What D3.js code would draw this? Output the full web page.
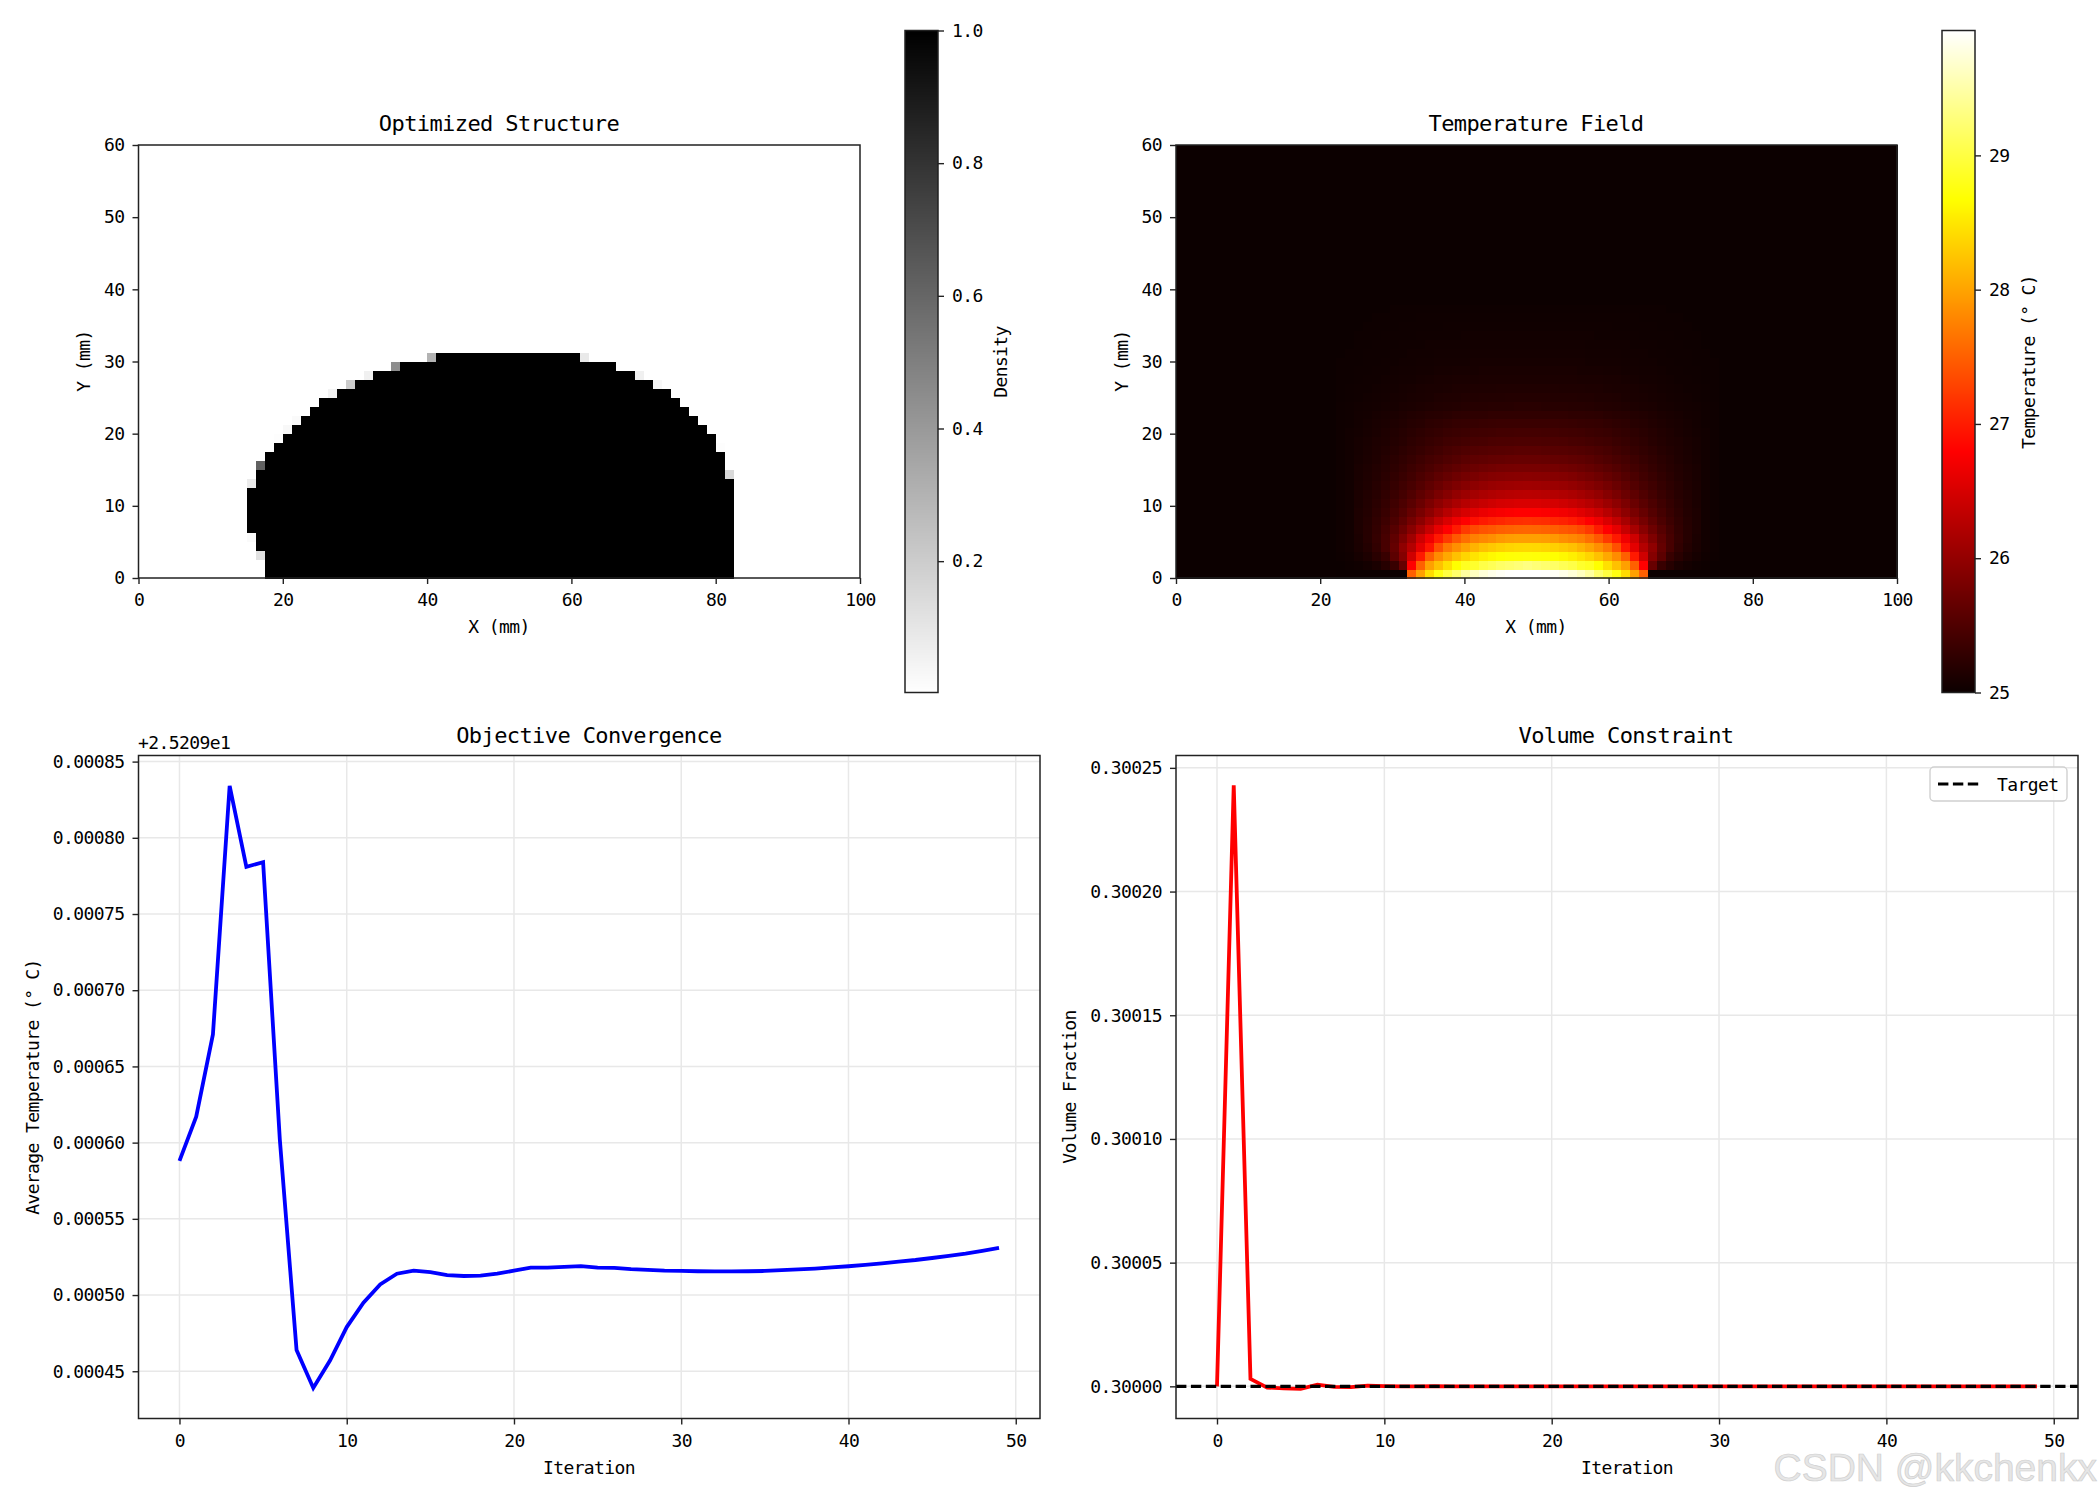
<!DOCTYPE html>
<html>
<head>
<meta charset="utf-8">
<script src="https://d3js.org/d3.v7.min.js"></script>
<style>
  html, body { margin: 0; padding: 0; background: #fff; }
  text { font-family: "DejaVu Sans Mono", monospace; fill: #000; letter-spacing: -0.6px; }
  .axis path, .axis line { stroke: #222; stroke-width: 1.4; }
  .axis text { font-size: 18px; }
</style>
</head>
<body>
<svg id="fig" width="2100" height="1500"></svg>
<script>
// iteration history
var objective = [
  0.000588, 0.000617, 0.000671, 0.000834, 0.000781, 0.000784, 0.000602, 0.000464, 0.000439, 0.000457,
  0.000479, 0.000495, 0.000507, 0.000514, 0.000516, 0.000515, 0.000513, 0.0005125, 0.0005127, 0.000514,
  0.000516, 0.000518, 0.000518, 0.0005185, 0.000519, 0.000518, 0.0005178, 0.000517, 0.0005165, 0.000516,
  0.0005158, 0.0005156, 0.0005155, 0.0005155, 0.0005156, 0.0005158, 0.0005163, 0.0005168, 0.0005174, 0.0005181,
  0.0005189, 0.0005198, 0.0005208, 0.000522, 0.000523, 0.0005243, 0.0005257, 0.0005272, 0.000529, 0.000531
];
var volume = [
  0.3, 0.300243, 0.300003, 0.2999995, 0.2999992, 0.299999, 0.3000007, 0.2999998, 0.2999997, 0.3000003,
  0.3000001, 0.3, 0.3, 0.3000001, 0.3, 0.3, 0.3, 0.3, 0.3, 0.3,
  0.3, 0.3, 0.3, 0.3, 0.3, 0.3, 0.3, 0.3, 0.3, 0.3,
  0.3, 0.3, 0.3, 0.3, 0.3, 0.3, 0.3, 0.3, 0.3, 0.3,
  0.3, 0.3, 0.3, 0.3, 0.3, 0.3, 0.3, 0.3, 0.3, 0.3
];
var volumeTarget = 0.3;

// density: solid run of each row (row 0 at the bottom), plus the grey cells on its edge
var solidStart = [14,14,14,13,13,12,12,12,12,12,13,13,14,14,15,16,17,18,19,20,22,24,26,29,33];
var solidEnd   = [66,66,66,66,66,66,66,66,66,66,66,65,65,65,64,64,63,62,61,60,59,57,55,53,49];
var edgeRow    = [2,4,10,11,12,14,15,16,17,20,21,21,22,22,23,24,24];
var edgeCol    = [13,12,12,65,13,64,15,16,17,21,23,57,25,55,28,32,49];
var edgeValue  = [0.12,0.02,0.08,0.15,0.62,0.01,0.01,0.03,0.02,0.05,0.2,0.03,0.06,0.06,0.45,0.3,0.09];

// temperature: rows 0..30 from the bottom, columns 18..39 (the field mirrors about column 39)
var tempRows = [
  [25,25,25,25,25,25,25,25,27.51,27.98,28.42,28.76,28.99,29.2,29.46,29.62,29.74,29.82,29.88,29.92,29.93,29.93],
  [25.01,25.02,25.04,25.07,25.11,25.2,25.33,25.68,26.8,27.51,27.98,28.22,28.45,28.68,28.84,28.9,29.03,29.1,29.18,29.22,29.26,29.31],
  [25.02,25.04,25.08,25.13,25.22,25.33,25.6,25.9,26.45,26.98,27.51,27.83,28.04,28.22,28.37,28.48,28.57,28.63,28.68,28.7,28.71,28.72],
  [25.03,25.05,25.11,25.18,25.28,25.44,25.66,25.97,26.25,26.6,26.95,27.39,27.68,27.85,28,28.12,28.22,28.28,28.33,28.37,28.39,28.4],
  [25.03,25.05,25.12,25.2,25.3,25.44,25.62,25.85,26.1,26.44,26.69,26.98,27.22,27.45,27.62,27.74,27.8,27.85,27.93,27.96,27.98,27.98],
  [25.03,25.05,25.13,25.2,25.29,25.41,25.55,25.72,25.92,26.15,26.38,26.62,26.8,27,27.22,27.34,27.41,27.45,27.5,27.52,27.54,27.55],
  [25.03,25.05,25.13,25.19,25.27,25.37,25.48,25.62,25.78,25.95,26.15,26.35,26.52,26.68,26.8,26.9,26.98,27.04,27.08,27.12,27.14,27.15],
  [25.03,25.05,25.13,25.18,25.25,25.33,25.43,25.54,25.67,25.81,25.96,26.12,26.27,26.4,26.5,26.58,26.66,26.71,26.75,26.78,26.8,26.8],
  [25.03,25.05,25.12,25.17,25.23,25.3,25.38,25.48,25.58,25.7,25.83,25.96,26.07,26.17,26.26,26.33,26.39,26.44,26.48,26.5,26.52,26.52],
  [25.03,25.05,25.12,25.16,25.21,25.27,25.34,25.42,25.51,25.61,25.71,25.82,25.91,26,26.07,26.13,26.18,26.22,26.25,26.27,26.28,26.29],
  [25.03,25.05,25.11,25.15,25.2,25.25,25.31,25.38,25.45,25.53,25.62,25.7,25.78,25.85,25.91,25.96,26,26.04,26.06,26.08,26.09,26.1],
  [25.03,25.05,25.1,25.14,25.18,25.23,25.28,25.34,25.4,25.47,25.54,25.61,25.67,25.73,25.78,25.82,25.86,25.89,25.91,25.92,25.93,25.94],
  [25.03,25.05,25.1,25.13,25.17,25.21,25.25,25.3,25.36,25.41,25.47,25.53,25.58,25.63,25.67,25.71,25.74,25.76,25.78,25.79,25.8,25.8],
  [25.03,25.05,25.09,25.12,25.15,25.19,25.23,25.27,25.32,25.37,25.42,25.46,25.5,25.54,25.58,25.61,25.63,25.65,25.66,25.67,25.68,25.68],
  [25.03,25.05,25.08,25.11,25.14,25.17,25.2,25.24,25.28,25.32,25.36,25.4,25.44,25.47,25.5,25.52,25.54,25.55,25.56,25.57,25.58,25.58],
  [25.03,25.05,25.08,25.1,25.13,25.15,25.18,25.21,25.25,25.28,25.32,25.35,25.38,25.4,25.42,25.44,25.45,25.47,25.48,25.48,25.49,25.49],
  [25.03,25.05,25.07,25.09,25.11,25.14,25.16,25.19,25.22,25.25,25.28,25.3,25.33,25.35,25.36,25.38,25.39,25.4,25.41,25.41,25.42,25.42],
  [25.03,25.04,25.06,25.08,25.1,25.12,25.14,25.16,25.19,25.21,25.24,25.26,25.28,25.3,25.31,25.32,25.33,25.34,25.35,25.35,25.35,25.35],
  [25.03,25.04,25.06,25.07,25.09,25.1,25.12,25.14,25.16,25.18,25.2,25.21,25.22,25.24,25.25,25.26,25.26,25.27,25.27,25.27,25.27,25.27],
  [25.03,25.04,25.05,25.06,25.07,25.08,25.09,25.11,25.12,25.13,25.15,25.16,25.17,25.18,25.19,25.2,25.2,25.21,25.21,25.21,25.22,25.22],
  [25.02,25.03,25.04,25.05,25.06,25.07,25.08,25.09,25.1,25.11,25.12,25.14,25.15,25.15,25.16,25.16,25.17,25.17,25.17,25.18,25.18,25.18],
  [25.02,25.03,25.04,25.04,25.05,25.06,25.07,25.08,25.09,25.1,25.11,25.11,25.12,25.13,25.13,25.14,25.14,25.14,25.15,25.15,25.15,25.15],
  [25.02,25.02,25.03,25.04,25.04,25.05,25.06,25.07,25.07,25.08,25.09,25.1,25.1,25.11,25.11,25.11,25.12,25.12,25.12,25.12,25.12,25.12],
  [25.02,25.02,25.03,25.03,25.04,25.04,25.05,25.06,25.06,25.07,25.07,25.08,25.08,25.09,25.09,25.09,25.1,25.1,25.1,25.1,25.1,25.1],
  [25.02,25.02,25.02,25.03,25.03,25.04,25.04,25.05,25.05,25.06,25.06,25.07,25.07,25.07,25.07,25.08,25.08,25.08,25.08,25.08,25.08,25.08],
  [25.01,25.02,25.02,25.03,25.03,25.03,25.04,25.04,25.05,25.05,25.05,25.06,25.06,25.06,25.06,25.07,25.07,25.07,25.07,25.07,25.07,25.07],
  [25.01,25.01,25.02,25.02,25.03,25.03,25.03,25.04,25.04,25.04,25.05,25.05,25.05,25.05,25.05,25.06,25.06,25.06,25.06,25.06,25.06,25.06],
  [25.01,25.01,25.02,25.02,25.02,25.03,25.03,25.03,25.03,25.04,25.04,25.04,25.04,25.04,25.05,25.05,25.05,25.05,25.05,25.05,25.05,25.05],
  [25.01,25.01,25.01,25.02,25.02,25.02,25.02,25.03,25.03,25.03,25.03,25.03,25.04,25.04,25.04,25.04,25.04,25.04,25.04,25.04,25.04,25.04],
  [25.01,25.01,25.01,25.01,25.02,25.02,25.02,25.02,25.02,25.03,25.03,25.03,25.03,25.03,25.03,25.03,25.03,25.03,25.03,25.03,25.03,25.03],
  [25.01,25.01,25.01,25.01,25.01,25.01,25.02,25.02,25.02,25.02,25.02,25.02,25.02,25.02,25.02,25.02,25.02,25.02,25.02,25.02,25.02,25.02]
];
var tempBase = 25.01;

// tick labels
var fieldXTicks = [0, 20, 40, 60, 80, 100];
var fieldYTicks = [0, 10, 20, 30, 40, 50, 60];
var iterTicks = [0, 10, 20, 30, 40, 50];
var objTicks = [0.00045, 0.0005, 0.00055, 0.0006, 0.00065, 0.0007, 0.00075, 0.0008, 0.00085];
var volTicks = [0.3, 0.30005, 0.3001, 0.30015, 0.3002, 0.30025];
var densityTicks = [0.2, 0.4, 0.6, 0.8, 1.0];
var tempTicks = [25, 26, 27, 28, 29];

var svg = d3.select('#fig');

var densityMin = 0.002, tempMin = 25, tempMax = 29.93;

function densityColor(v) {
  var g = Math.round(255 * (1 - (v - densityMin) / (1 - densityMin)));
  return 'rgb(' + g + ',' + g + ',' + g + ')';
}
var hotScale = d3.scaleLinear()
  .domain([0, 0.365, 0.746, 1])
  .range(['#0b0000', '#ff0000', '#ffff00', '#ffffff'])
  .clamp(true);
function tempColor(t) {
  return hotScale((t - tempMin) / (tempMax - tempMin));
}

// plain mono text, same spot for every label
function label(x, y, str, size, rotate) {
  var t = svg.append('text')
    .attr('text-anchor', 'middle')
    .attr('dominant-baseline', 'central')
    .style('font-size', size + 'px');
  if (rotate) {
    t.attr('transform', 'translate(' + x + ',' + y + ') rotate(-90)');
  } else {
    t.attr('x', x).attr('y', y);
  }
  t.text(str);
  return t;
}

function degreeLabel(t, before, after) {
  t.text(before);
  t.append('tspan').attr('dx', 10).text(after);
}

function drawAxes(g, x, y, xTicks, yTicks, w, h, yFormat, xPad) {
  var ax = d3.axisBottom(x).tickValues(xTicks).tickSize(6).tickPadding(xPad).tickFormat(d3.format('d'));
  var ay = d3.axisLeft(y).tickValues(yTicks).tickSize(6).tickPadding(8).tickFormat(yFormat);
  g.append('g').attr('class', 'axis').attr('transform', 'translate(0,' + h + ')').call(ax)
    .select('.domain').remove();
  g.append('g').attr('class', 'axis').call(ay)
    .select('.domain').remove();
  g.append('rect').attr('width', w).attr('height', h)
    .attr('fill', 'none').attr('stroke', '#222').attr('stroke-width', 1.5);
}

// ---- top row: the two image panels
function imagePanel(box, cols, rows, cellColor) {
  var w = box.r - box.l, h = box.b - box.t;
  var g = svg.append('g').attr('transform', 'translate(' + box.l + ',' + box.t + ')');
  var x = d3.scaleLinear().domain([0, 100]).range([0, w]);
  var y = d3.scaleLinear().domain([0, 60]).range([h, 0]);
  var colX = d3.scaleLinear().domain([0, cols]).range([0, w]);
  var rowY = d3.scaleLinear().domain([0, rows]).range([h, 0]);

  var cells = [];
  d3.range(rows).forEach(function (r) {
    d3.range(cols).forEach(function (c) {
      cells.push({r: r, c: c});
    });
  });
  g.append('g').attr('shape-rendering', 'crispEdges')
    .selectAll('rect').data(cells).enter().append('rect')
    .attr('x', function (d) { return colX(d.c); })
    .attr('y', function (d) { return rowY(d.r + 1); })
    .attr('width', function (d) { return colX(d.c + 1) - colX(d.c) + 0.5; })
    .attr('height', function (d) { return rowY(d.r) - rowY(d.r + 1) + 0.5; })
    .attr('fill', function (d) { return cellColor(d.r, d.c); });

  drawAxes(g, x, y, fieldXTicks, fieldYTicks, w, h, d3.format('d'), 9);
  return g;
}

function densityAt(r, c) {
  for (var i = 0; i < edgeRow.length; i++) {
    if (edgeRow[i] === r && edgeCol[i] === c) return edgeValue[i];
  }
  if (r < solidStart.length && c >= solidStart[r] && c < solidEnd[r]) return 1;
  return densityMin;
}

function tempAt(r, c) {
  var k = c > 39 ? 78 - c : c;
  if (r >= tempRows.length || k < 18) return tempBase;
  return tempRows[r][k - 18];
}

var boxDensity = {l: 138.5, r: 860, t: 145, b: 578};
var boxTemp = {l: 1176, r: 1897, t: 145, b: 578};

imagePanel(boxDensity, 80, 48, function (r, c) { return densityColor(densityAt(r, c)); });
imagePanel(boxTemp, 81, 49, function (r, c) { return tempColor(tempAt(r, c)); });

label(499, 123, 'Optimized Structure', 22);
label(1536, 123, 'Temperature Field', 22);
label(499, 626, 'X (mm)', 18);
label(1536, 626, 'X (mm)', 18);
label(83, 361, 'Y (mm)', 18, true);
label(1121, 361, 'Y (mm)', 18, true);

// ---- colorbars
function colorbar(left, right, top, bottom, dom, color, ticks, fmt) {
  var w = right - left, h = bottom - top;
  var g = svg.append('g').attr('transform', 'translate(' + left + ',' + top + ')');
  var y = d3.scaleLinear().domain(dom).range([h, 0]);
  g.append('g').attr('shape-rendering', 'crispEdges')
    .selectAll('rect').data(d3.range(h)).enter().append('rect')
    .attr('x', 0).attr('y', function (d) { return d; })
    .attr('width', w).attr('height', 1.5)
    .attr('fill', function (d) { return color(y.invert(d + 0.5)); });
  var ax = d3.axisRight(y).tickValues(ticks).tickSize(6).tickPadding(8).tickFormat(fmt);
  g.append('g').attr('class', 'axis').attr('transform', 'translate(' + w + ',0)').call(ax)
    .select('.domain').remove();
  g.append('rect').attr('width', w).attr('height', h)
    .attr('fill', 'none').attr('stroke', '#222').attr('stroke-width', 1.5);
}

colorbar(905, 938, 30.5, 692.5, [densityMin, 1], densityColor, densityTicks, d3.format('.1f'));
colorbar(1942, 1975, 30.5, 692.5, [tempMin, tempMax], tempColor, tempTicks, d3.format('d'));

label(1000, 362, 'Density', 18, true);
degreeLabel(label(2028, 362, '', 18, true), 'Temperature (°', 'C)');

// ---- bottom row: line panels
function linePanel(box, values, dom, color, yTicks) {
  var w = box.r - box.l, h = box.b - box.t;
  var g = svg.append('g').attr('transform', 'translate(' + box.l + ',' + box.t + ')');
  var x = d3.scaleLinear().domain([-2.45, 51.45]).range([0, w]);
  var y = d3.scaleLinear().domain(dom).range([h, 0]);

  g.append('g').selectAll('line').data(iterTicks).enter().append('line')
    .attr('x1', function (d) { return x(d); }).attr('x2', function (d) { return x(d); })
    .attr('y1', 0).attr('y2', h)
    .attr('stroke', '#e8e8e8').attr('stroke-width', 1.5);
  g.append('g').selectAll('line').data(yTicks).enter().append('line')
    .attr('y1', function (d) { return y(d); }).attr('y2', function (d) { return y(d); })
    .attr('x1', 0).attr('x2', w)
    .attr('stroke', '#e8e8e8').attr('stroke-width', 1.5);

  var line = d3.line()
    .x(function (d, i) { return x(i); })
    .y(function (d) { return y(d); });
  g.append('path').datum(values)
    .attr('d', line)
    .attr('fill', 'none').attr('stroke', color).attr('stroke-width', 3.8);

  return {g: g, x: x, y: y, w: w, h: h};
}

var boxObj = {l: 138.5, r: 1040, t: 755.5, b: 1418.5};
var boxVol = {l: 1176, r: 2078, t: 755.5, b: 1418.5};

var objPanel = linePanel(boxObj, objective, [0.000419, 0.000854], '#0000ff', objTicks);
drawAxes(objPanel.g, objPanel.x, objPanel.y, iterTicks, objTicks, objPanel.w, objPanel.h, d3.format('.5f'), 10);

var volPanel = linePanel(boxVol, volume, [0.299987, 0.300255], '#ff0000', volTicks);
volPanel.g.append('line')
  .attr('x1', 0).attr('x2', volPanel.w)
  .attr('y1', volPanel.y(volumeTarget)).attr('y2', volPanel.y(volumeTarget))
  .attr('stroke', '#000').attr('stroke-width', 3.2).attr('stroke-dasharray', '10.4,4.5');
drawAxes(volPanel.g, volPanel.x, volPanel.y, iterTicks, volTicks, volPanel.w, volPanel.h, d3.format('.5f'), 10);

label(589, 735, 'Objective Convergence', 22);
label(1626, 735, 'Volume Constraint', 22);
label(589, 1467, 'Iteration', 18);
label(1627, 1467, 'Iteration', 18);
degreeLabel(label(32, 1087, '', 18, true), 'Average Temperature (°', 'C)');
label(1069, 1087, 'Volume Fraction', 18, true);

svg.append('text').attr('x', 138).attr('y', 749).style('font-size', '18px').text('+2.5209e1');

// legend
var legend = svg.append('g').attr('transform', 'translate(1930,767)');
legend.append('rect').attr('width', 137).attr('height', 34).attr('rx', 4)
  .attr('fill', '#fff').attr('fill-opacity', 0.8)
  .attr('stroke', '#d0d0d0').attr('stroke-width', 1.4);
legend.append('line').attr('x1', 8).attr('x2', 50).attr('y1', 17).attr('y2', 17)
  .attr('stroke', '#000').attr('stroke-width', 3.2).attr('stroke-dasharray', '10.4,4.5');
legend.append('text').attr('x', 67).attr('y', 17).attr('dominant-baseline', 'central')
  .style('font-size', '18px').text('Target');

// site watermark
svg.append('text').attr('x', 2097).attr('y', 1481).attr('text-anchor', 'end')
  .style('letter-spacing', '0')
  .style('font-family', '"Liberation Sans", sans-serif').style('font-size', '39px')
  .style('fill', '#e6e6e6').style('stroke', '#cfcfcf').style('stroke-width', 0.7)
  .text('CSDN @kkchenkx');
</script>
</body>
</html>
